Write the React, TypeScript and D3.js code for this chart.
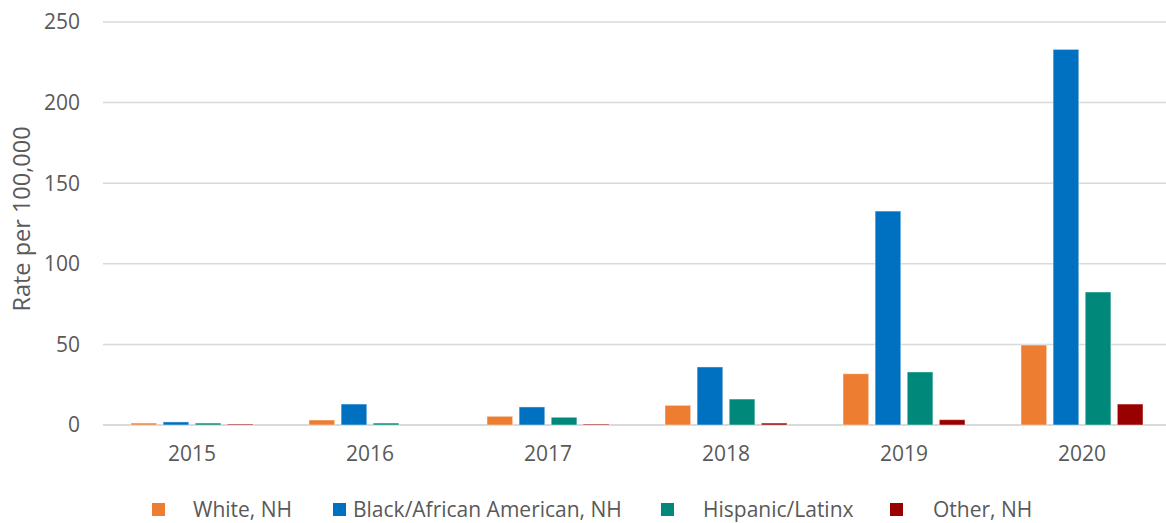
import React from "react";
import * as d3 from "d3";

const WIDTH = 1166;
const HEIGHT = 523;
const MARGIN = { top: 22, left: 103, bottom: 425 };

const years = ["2015", "2016", "2017", "2018", "2019", "2020"];
const seriesNames = ["White, NH", "Black/African American, NH", "Hispanic/Latinx", "Other, NH"];
const white = [1.2, 3.1, 5.4, 12.2, 31.8, 49.6];
const black = [1.9, 13, 11.2, 36, 132.7, 233];
const hispanic = [1.2, 1.2, 4.8, 16.1, 32.9, 82.5];
const other = [0.6, 0, 0.6, 1.2, 3.3, 13];
const yTicks = [0, 50, 100, 150, 200, 250];

const colors = ["#ED7D31", "#0070C0", "#00897B", "#990000"];
const legendX = [152, 333, 661, 890];
const legendTextX = [193, 353, 703, 933];

const FONT = "'Open Sans', 'Noto Sans', sans-serif";
const TEXT = "#595959";

const App = () => {
  const seriesValues = [white, black, hispanic, other];

  const x0 = d3.scaleBand().domain(years).range([MARGIN.left, MARGIN.left + 178 * 6]).padding(0);
  const x1 = d3.scaleBand().domain(seriesNames).range([28, 150]).paddingInner(0.2);
  const y = d3.scaleLinear().domain([0, 250]).range([MARGIN.bottom, MARGIN.top]);

  return (
    <svg
      width={WIDTH}
      height={HEIGHT}
      style={{ position: "absolute", left: 0, top: 0, background: "#fff" }}
      fontFamily={FONT}
    >
      {/* gridlines */}
      {yTicks.map((t) => (
        <line
          key={t}
          x1={MARGIN.left}
          x2={WIDTH}
          y1={y(t)}
          y2={y(t)}
          stroke="#d9d9d9"
          strokeWidth={t === 0 ? 2 : 1.5}
        />
      ))}
      {yTicks.map((t) => (
        <text key={"l" + t} x={80} y={y(t)} dy="0.35em" textAnchor="end" fontSize={21} fill={TEXT}>
          {t}
        </text>
      ))}

      {/* bars */}
      {years.map((yr, i) => (
        <g key={yr} transform={`translate(${x0(yr)},0)`}>
          {seriesNames.map((s, j) => {
            const v = seriesValues[j][i];
            if (v <= 0) return null;
            return (
              <rect
                key={s}
                x={x1(s)}
                y={y(v)}
                width={x1.bandwidth()}
                height={y(0) - y(v)}
                fill={colors[j]}
                stroke="#fff"
                strokeOpacity={0.45}
                strokeWidth={1}
              />
            );
          })}
          <text
            x={x0.bandwidth() / 2}
            y={454}
            dy="0.35em"
            textAnchor="middle"
            fontSize={21}
            fill={TEXT}
          >
            {yr}
          </text>
        </g>
      ))}

      {/* y axis title */}
      <text
        transform={`translate(22,219) rotate(-90)`}
        textAnchor="middle"
        dy="0.35em"
        fontSize={23.5}
        fill={TEXT}
      >
        Rate per 100,000
      </text>

      {/* legend */}
      {seriesNames.map((s, j) => (
        <g key={s}>
          <rect x={legendX[j]} y={503} width={13} height={13} fill={colors[j]} />
          <text x={legendTextX[j]} y={510} dy="0.35em" fontSize={21} fill={TEXT}>
            {s}
          </text>
        </g>
      ))}
    </svg>
  );
};

export default App;
